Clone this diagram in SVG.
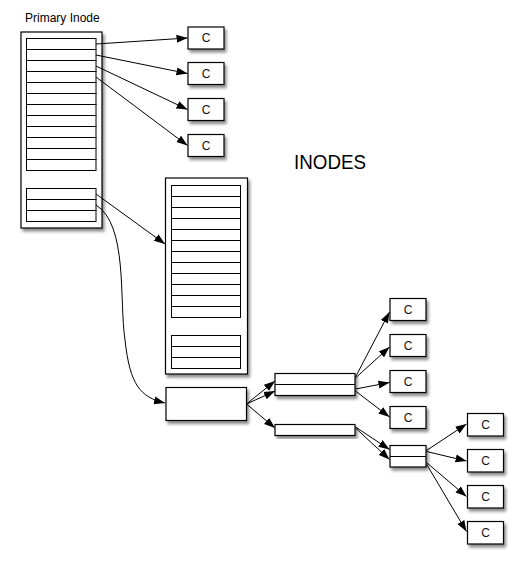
<svg xmlns="http://www.w3.org/2000/svg" width="523" height="568" viewBox="0 0 523 568">
<style>
.box{fill:#fff;stroke:#000;stroke-width:1.2;filter:url(#sh)}
.row{fill:#fff;stroke:#000;stroke-width:1}
.c{font-family:"Liberation Sans",Arial,sans-serif;font-size:12px;text-anchor:middle;fill:#111}
.lbl{font-family:"Liberation Sans",Arial,sans-serif;fill:#000}
.con{fill:none;stroke:#000;stroke-width:1;marker-end:url(#ah)}
</style>
<defs>
<filter id="sh" x="-20%" y="-20%" width="150%" height="150%">
<feDropShadow dx="2" dy="3" stdDeviation="1.8" flood-color="#000" flood-opacity="0.45"/>
</filter>
<marker id="ah" markerUnits="userSpaceOnUse" markerWidth="12" markerHeight="10" viewBox="0 0 12 10" refX="11" refY="5" orient="auto">
<path d="M0,1 L11,5 L0,9 Z" fill="#000"/>
</marker>
</defs>
<rect width="523" height="568" fill="#fff"/>

<g id="primary-inode">
<text class="lbl" x="25" y="21.5" font-size="12">Primary Inode</text>
<rect class="box" x="21" y="32" width="81" height="196"/>
<g class="rows">
<rect class="row" x="26.5" y="38.5" width="69.5" height="11"/>
<rect class="row" x="26.5" y="49.5" width="69.5" height="11"/>
<rect class="row" x="26.5" y="60.5" width="69.5" height="11"/>
<rect class="row" x="26.5" y="71.5" width="69.5" height="11"/>
<rect class="row" x="26.5" y="82.5" width="69.5" height="11"/>
<rect class="row" x="26.5" y="93.5" width="69.5" height="11"/>
<rect class="row" x="26.5" y="104.5" width="69.5" height="11"/>
<rect class="row" x="26.5" y="115.5" width="69.5" height="11"/>
<rect class="row" x="26.5" y="126.5" width="69.5" height="11"/>
<rect class="row" x="26.5" y="137.5" width="69.5" height="11"/>
<rect class="row" x="26.5" y="148.5" width="69.5" height="11"/>
<rect class="row" x="26.5" y="159.5" width="69.5" height="11"/>
<rect class="row" x="26.5" y="188.5" width="69.5" height="11"/>
<rect class="row" x="26.5" y="199.5" width="69.5" height="11"/>
<rect class="row" x="26.5" y="210.5" width="69.5" height="11"/>
</g>
</g>

<g id="c-top-1"><rect class="box" x="188" y="27" width="36" height="22"/><text class="c" x="206" y="42">C</text></g>
<g id="c-top-2"><rect class="box" x="188" y="62.5" width="36" height="22"/><text class="c" x="206" y="77.5">C</text></g>
<g id="c-top-3"><rect class="box" x="188" y="98.5" width="36" height="22"/><text class="c" x="206" y="113.5">C</text></g>
<g id="c-top-4"><rect class="box" x="188" y="134.5" width="36" height="22"/><text class="c" x="206" y="149.5">C</text></g>

<g id="title"><text class="lbl" x="294" y="168.5" font-size="21" textLength="72" lengthAdjust="spacingAndGlyphs">INODES</text></g>

<g id="secondary-inode">
<rect class="box" x="165.5" y="178" width="82" height="196"/>
<rect class="row" x="171.5" y="185.5" width="69" height="11"/>
<rect class="row" x="171.5" y="196.5" width="69" height="11"/>
<rect class="row" x="171.5" y="207.5" width="69" height="11"/>
<rect class="row" x="171.5" y="218.5" width="69" height="11"/>
<rect class="row" x="171.5" y="229.5" width="69" height="11"/>
<rect class="row" x="171.5" y="240.5" width="69" height="11"/>
<rect class="row" x="171.5" y="251.5" width="69" height="11"/>
<rect class="row" x="171.5" y="262.5" width="69" height="11"/>
<rect class="row" x="171.5" y="273.5" width="69" height="11"/>
<rect class="row" x="171.5" y="284.5" width="69" height="11"/>
<rect class="row" x="171.5" y="295.5" width="69" height="11"/>
<rect class="row" x="171.5" y="306.5" width="69" height="11"/>
<rect class="row" x="171.5" y="335.5" width="69" height="11"/>
<rect class="row" x="171.5" y="346.5" width="69" height="11"/>
<rect class="row" x="171.5" y="357.5" width="69" height="11"/>
</g>

<g id="indirect-block"><rect class="box" x="166" y="387.5" width="80.5" height="33"/></g>

<g id="mid-pair">
<rect class="box" x="275" y="373.5" width="80" height="22"/>
<line x1="275" y1="384.5" x2="355" y2="384.5" stroke="#000" stroke-width="1"/>
</g>
<g id="mid-single"><rect class="box" x="275" y="424.5" width="80" height="11"/></g>

<g id="c-mid-1"><rect class="box" x="390" y="298.5" width="36" height="22"/><text class="c" x="408" y="313.5">C</text></g>
<g id="c-mid-2"><rect class="box" x="390" y="334.5" width="36" height="22"/><text class="c" x="408" y="349.5">C</text></g>
<g id="c-mid-3"><rect class="box" x="390" y="370.5" width="36" height="22"/><text class="c" x="408" y="385.5">C</text></g>
<g id="c-mid-4"><rect class="box" x="390" y="406.5" width="36" height="22"/><text class="c" x="408" y="421.5">C</text></g>

<g id="small-pair">
<rect class="box" x="390" y="445.5" width="36" height="21.5"/>
<line x1="390" y1="456.5" x2="426" y2="456.5" stroke="#000" stroke-width="1"/>
</g>

<g id="c-right-1"><rect class="box" x="467.5" y="413.5" width="36" height="22.5"/><text class="c" x="485.5" y="429">C</text></g>
<g id="c-right-2"><rect class="box" x="467.5" y="449.5" width="36" height="22.5"/><text class="c" x="485.5" y="465">C</text></g>
<g id="c-right-3"><rect class="box" x="467.5" y="485.5" width="36" height="22.5"/><text class="c" x="485.5" y="501">C</text></g>
<g id="c-right-4"><rect class="box" x="467.5" y="521.5" width="36" height="22.5"/><text class="c" x="485.5" y="537">C</text></g>

<g id="connectors">
<path class="con" d="M96,44 L187.5,38"/>
<path class="con" d="M96,55 L187.5,73.5"/>
<path class="con" d="M96,66 L187.5,109.5"/>
<path class="con" d="M96,77 L187.5,145.5"/>
<path class="con" d="M96,194 L165,244"/>
<path class="con" d="M96,205 C128,225 119,300 125,340 C130,385 140,397 165,403"/>
<path class="con" d="M246.5,404 L275,381"/>
<path class="con" d="M246.5,404 L275,391"/>
<path class="con" d="M246.5,404 L275,428"/>
<path class="con" d="M355.5,377 L389.5,312"/>
<path class="con" d="M355.5,378 L389.5,347"/>
<path class="con" d="M355.5,389 L389.5,382.5"/>
<path class="con" d="M355.5,391 L389.5,417"/>
<path class="con" d="M355.5,427 L389.5,449.5"/>
<path class="con" d="M355.5,428 L389.5,459.5"/>
<path class="con" d="M426.5,450.5 L466.5,424"/>
<path class="con" d="M426.5,451.5 L466.5,461"/>
<path class="con" d="M426.5,462.5 L466.5,496.5"/>
<path class="con" d="M426.5,464 L466.5,531.5"/>
</g>
</svg>
